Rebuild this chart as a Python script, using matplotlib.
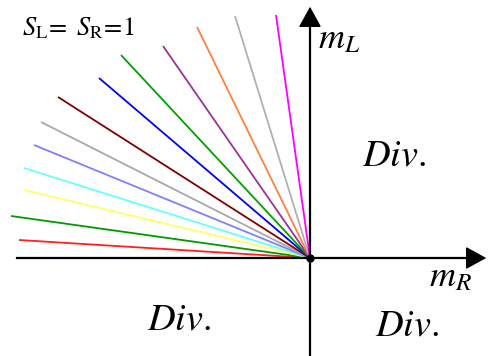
import numpy as np
import matplotlib
matplotlib.use('Agg')
import matplotlib.pyplot as plt

plt.rcParams['mathtext.fontset'] = 'stix'
plt.rcParams['font.family'] = ['Liberation Serif', 'DejaVu Serif']

# far ends of the rays (m_R, m_L), all rays start at the origin
ray_mR = [-291, -299, -286, -286, -276, -269, -252, -211, -189, -147, -113, -75, -34]
ray_mL = [18, 42, 68, 90, 113, 136, 161, 180, 203, 212, 231, 242, 243]
ray_colors = ['#ff2020', '#009900', '#ffff66', '#66ffff', '#8080ff', '#a8a8a8',
              '#800000', '#0000ff', '#00a000', '#993399', '#ff8040', '#b0b0b0',
              '#ff00ff']

fig = plt.figure(figsize=(4.9, 3.56), dpi=100)
ax = fig.add_axes([0, 0, 1, 1])
ax.set_xlim(-310, 180)
ax.set_ylim(-98, 258)
ax.axis('off')

for x, y, c in zip(ray_mR, ray_mL, ray_colors):
    ax.plot([0, x], [0, y], color=c, lw=1.3, solid_capstyle='butt', zorder=2)

# axes with arrow heads
ax.plot([-293, 168], [0, 0], color='k', lw=1.6, zorder=3)
ax.plot([0, 0], [-98, 240], color='k', lw=1.6, zorder=3)
head = dict(arrowstyle='-|>,head_length=1.0,head_width=0.55',
            color='k', lw=1.0, mutation_scale=13)
ax.annotate('', xy=(179, 0), xytext=(160, 0), arrowprops=head,
            annotation_clip=False)
ax.annotate('', xy=(0, 254), xytext=(0, 235), arrowprops=head,
            annotation_clip=False)
ax.plot(0, 0, 'o', color='k', ms=5, zorder=4)

ax.text(-288, 223, r'$S_{\mathrm{L}}\!=\ S_{\mathrm{R}}\!=\!1$', fontsize=19)
ax.text(8, 210, r'$m_L$', fontsize=26)
ax.text(119, -28, r'$m_R$', fontsize=26)
ax.text(52, 93, r'$Div.$', fontsize=27.5)
ax.text(-163, -72, r'$Div.$', fontsize=27.5)
ax.text(65, -77, r'$Div.$', fontsize=27.5)

fig.savefig('out.png', dpi=100, facecolor='white')
